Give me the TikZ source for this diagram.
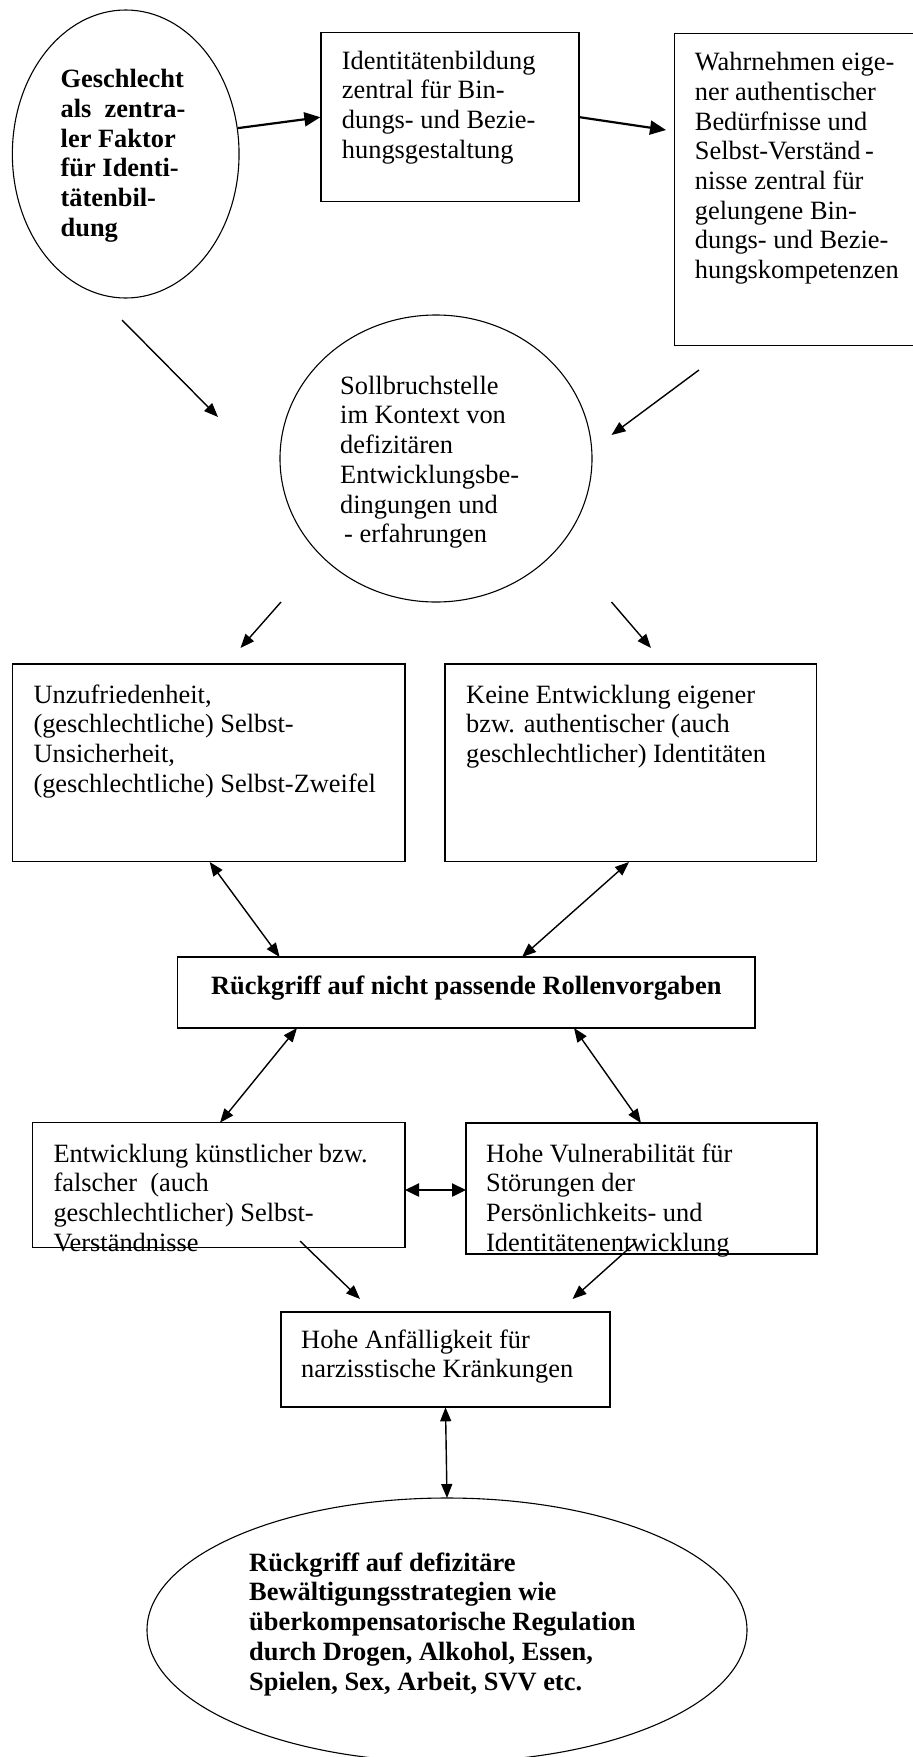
\documentclass[tikz,border=0pt]{standalone}
\usepackage{fontspec}
\setmainfont{Liberation Serif}
\usetikzlibrary{shapes.geometric,arrows.meta}
\newcommand{\firstln}{\rule{0pt}{22pt}}
\tikzset{
  txt/.style={inner sep=0pt, anchor=north west, align=left, font=\fontsize{26.4}{29.7}\selectfont},
  boldtxt/.style={txt, font=\fontsize{26.4}{29.7}\selectfont\bfseries},
  box/.style={draw, line width=1.3pt, rectangle, inner sep=0pt},
  oval/.style={draw, line width=1.1pt, ellipse, inner sep=0pt},
  arr/.style={line width=1.4pt, -{Triangle[length=14pt,width=11pt]}},
  darr/.style={line width=1.4pt, {Triangle[length=14pt,width=11pt]}-{Triangle[length=14pt,width=11pt]}},
  bigarr/.style={line width=2.2pt, -{Triangle[length=16pt,width=14pt]}},
  bigdarr/.style={line width=2.4pt, {Triangle[length=14pt,width=13pt]}-{Triangle[length=14pt,width=13pt]}},
}
\begin{document}
\begin{tikzpicture}[x=1pt,y=-1pt]
\useasboundingbox (0,0) rectangle (913,1757);
\fill[white] (0,0) rectangle (913,1757);
\clip (0,0) rectangle (913,1757);

% shapes
\node[oval, minimum width=226.7pt, minimum height=288pt] (e1) at (125.7,154) {};
\node[box, minimum width=258pt, minimum height=169pt] (b2) at (450,117.2) {};
\node[box, minimum width=241.3pt, minimum height=312.4pt] (b3) at (795.4,189.5) {};
\node[oval, minimum width=312pt, minimum height=287pt] (c2) at (436,458.5) {};
\node[box, minimum width=392.7pt, minimum height=197.7pt] (b4) at (208.65,762.85) {};
\node[box, minimum width=371.7pt, minimum height=197.7pt] (b5) at (630.85,762.85) {};
\node[box, minimum width=577.4pt, minimum height=71pt] (b6) at (466.3,992.5) {};
\node[box, minimum width=372.7pt, minimum height=125pt] (b7) at (218.65,1185.2) {};
\node[box, minimum width=351pt, minimum height=131pt] (b8) at (641.5,1188.5) {};
\node[box, minimum width=329pt, minimum height=95pt] (b9) at (445.5,1359.5) {};
\node[oval, minimum width=600pt, minimum height=264pt] (e10) at (447,1630) {};

% texts
\node[boldtxt] (t1) at (60.5,65.5) {\firstln Geschlecht\\als\ \ zentra-\\ler Faktor\\für Identi-\\tätenbil-\\dung};
\node[txt] (t2) at (341.7,47) {\firstln Identitätenbildung\\zentral für Bin-\\dungs- und Bezie-\\hungsgestaltung};
\node[txt] (t3) at (694.7,48.5) {\firstln Wahrnehmen eige-\\ner authentischer\\Bedürfnisse und\\Selbst-Verständ\,-\\nisse zentral für\\gelungene Bin-\\dungs- und Bezie-\\hungskompetenzen};
\node[txt] (t4) at (340,372) {\firstln Sollbruchstelle\\im Kontext von\\defizitären\\Entwicklungsbe-\\dingungen und\\\hspace*{4pt}- erfahrungen};
\node[txt] (t5) at (33.3,681) {\firstln Unzufriedenheit,\\(geschlechtliche) Selbst-\\Unsicherheit,\\(geschlechtliche) Selbst-Zweifel};
\node[txt] (t6) at (466,681) {\firstln Keine Entwicklung eigener\\bzw. authentischer (auch\\geschlechtlicher) Identitäten};
\node[boldtxt, anchor=north] (t7) at (466.3,972) {\firstln Rückgriff auf nicht passende Rollenvorgaben};
\node[txt] (t8) at (53.3,1140) {\firstln Entwicklung künstlicher bzw.\\falscher\ \ (auch\\geschlechtlicher) Selbst-\\Verständnisse};
\node[txt] (t9) at (486,1140) {\firstln Hohe Vulnerabilität für\\Störungen der\\Persönlichkeits- und\\Identitätenentwicklung};
\node[txt] (t10) at (301,1326) {\firstln Hohe Anfälligkeit für\\narzisstische Kränkungen};
\node[boldtxt] (t11) at (249,1549) {\firstln Rückgriff auf defizitäre\\Bewältigungsstrategien wie\\überkompensatorische Regulation\\durch Drogen, Alkohol, Essen,\\Spielen, Sex, Arbeit, SVV etc.};

% connector end points
\coordinate (p2) at (666,130);
\coordinate (q1s) at (122,320);  \coordinate (q1e) at (218,417);
\coordinate (q2s) at (699,370);  \coordinate (q2e) at (611.5,435);
\coordinate (q3s) at (281,602);  \coordinate (q3e) at (240.5,648);
\coordinate (q4s) at (611.5,602); \coordinate (q4e) at (651,648);
\coordinate (d1a) at (209.7,862); \coordinate (d1b) at (279.6,957);
\coordinate (d2a) at (629,862);   \coordinate (d2b) at (522,957);
\coordinate (d3a) at (297,1028);  \coordinate (d3b) at (220,1122.7);
\coordinate (d4a) at (574,1028);  \coordinate (d4b) at (641,1123);
\coordinate (d5a) at (405,1190);  \coordinate (d5b) at (466,1190);
\coordinate (r1s) at (300,1241);  \coordinate (r1e) at (360,1299);
\coordinate (r2s) at (635,1243);  \coordinate (r2e) at (572.5,1299);
\coordinate (d6a) at (445.5,1407.3); \coordinate (d6b) at (447,1498);

% connectors
\draw[bigarr] (e1.13) -- (b2.west);
\draw[bigarr] (b2.east) -- (p2);
\draw[arr] (q1s) -- (q1e);
\draw[arr] (q2s) -- (q2e);
\draw[arr] (q3s) -- (q3e);
\draw[arr] (q4s) -- (q4e);
\draw[darr] (d1a) -- (d1b);
\draw[darr] (d2a) -- (d2b);
\draw[darr] (d3a) -- (d3b);
\draw[darr] (d4a) -- (d4b);
\draw[bigdarr] (d5a) -- (d5b);
\draw[arr] (r1s) -- (r1e);
\draw[arr] (r2s) -- (r2e);
\draw[darr] (d6a) -- (d6b);
\end{tikzpicture}
\end{document}
